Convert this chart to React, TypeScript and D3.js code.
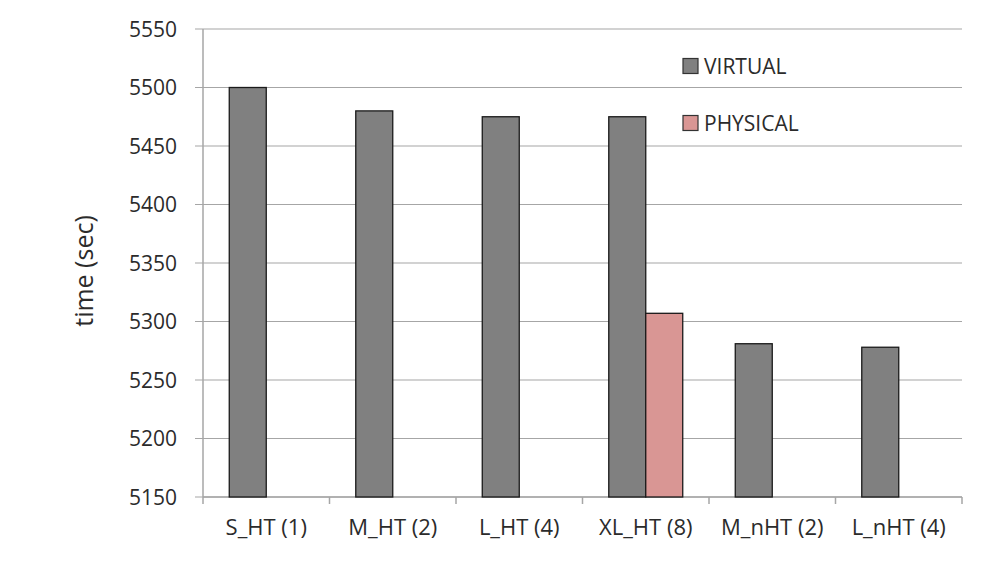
import React from "react";
import * as d3 from "d3";

const categories = ["S_HT (1)", "M_HT (2)", "L_HT (4)", "XL_HT (8)", "M_nHT (2)", "L_nHT (4)"];
const seriesNames = ["VIRTUAL", "PHYSICAL"];
const virtualValues = [5500, 5480, 5475, 5475, 5281, 5278];
const physicalValues = [null, null, null, 5307, null, null];
const yTicks = [5150, 5200, 5250, 5300, 5350, 5400, 5450, 5500, 5550];
const colors = ["#808080", "#d99694"];

export default function App() {
  const W = 992, H = 561;
  const left = 203, right = 962, top = 29, bottom = 497;
  const x = d3.scaleBand().domain(categories).range([left, right]).paddingInner(0).paddingOuter(0);
  const inner = d3.scaleBand().domain(seriesNames).range([0, x.bandwidth()]).paddingInner(0).paddingOuter(0.71);
  const y = d3.scaleLinear().domain([5150, 5550]).range([bottom, top]);
  const series = [virtualValues, physicalValues];
  const font = "'Open Sans', 'Liberation Sans', sans-serif";
  return (
    <svg width={W} height={H} style={{ position: "absolute", left: 0, top: 0, background: "#fff" }} fontFamily={font}>
      <rect x={0} y={0} width={W} height={H} fill="#fff" />
      {yTicks.map((t) => (
        <g key={t}>
          <line x1={left - 8} x2={right} y1={y(t)} y2={y(t)} stroke="#a6a6a6" strokeWidth={1.2} />
          <text x={177} y={y(t)} dy="0.36em" textAnchor="end" fontSize={21} fill="#2b2b2b">{t}</text>
        </g>
      ))}
      <line x1={left} x2={left} y1={top} y2={bottom} stroke="#a6a6a6" strokeWidth={1.5} />
      <line x1={left} x2={right} y1={bottom} y2={bottom} stroke="#a6a6a6" strokeWidth={1.5} />
      {categories.concat([""]).map((c, i) => {
        const xx = left + i * x.step();
        return <line key={"t" + i} x1={xx} x2={xx} y1={bottom} y2={bottom + 7} stroke="#a6a6a6" strokeWidth={1.5} />;
      })}
      {series.map((vals, si) =>
        vals.map((v, i) =>
          v == null ? null : (
            <rect
              key={si + "-" + i}
              x={(x(categories[i]) as number) + (inner(seriesNames[si]) as number)}
              y={y(v)}
              width={inner.bandwidth()}
              height={bottom - y(v)}
              fill={colors[si]}
              stroke="#1a1a1a"
              strokeWidth={1.3}
            />
          )
        )
      )}
      {categories.map((c) => (
        <text key={c} x={(x(c) as number) + x.bandwidth() / 2} y={527} dy="0.35em" textAnchor="middle" fontSize={22} fill="#2b2b2b">{c}</text>
      ))}
      <text transform={`translate(84,271) rotate(-90)`} textAnchor="middle" dy="0.35em" fontSize={25} fill="#2b2b2b">time (sec)</text>
      {seriesNames.map((s, i) => (
        <g key={s} transform={`translate(683,${66 + i * 57})`}>
          <rect x={0} y={-7.5} width={15} height={15} fill={colors[i]} stroke="#333" strokeWidth={1.2} />
          <text x={21} y={1} dy="0.35em" fontSize={21} fill="#2b2b2b">{s}</text>
        </g>
      ))}
    </svg>
  );
}
